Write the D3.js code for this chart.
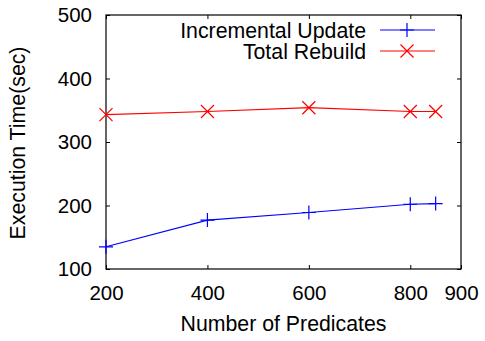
<!DOCTYPE html>
<html>
<head>
<meta charset="utf-8">
<script src="https://cdn.jsdelivr.net/npm/d3@7"></script>
<style>
  body { margin: 0; background: #fff; }
  text { font-family: "Liberation Sans", Arial, sans-serif; fill: #000; }
</style>
</head>
<body>
<div id="chart"></div>
<script>
// data
const predicates = [200, 400, 600, 800, 850];
const incremental = [135, 177, 189, 202, 203];
const rebuild = [343, 348, 354, 348, 348];
const xTicks = [200, 400, 600, 800, 900];
const yTicks = [100, 200, 300, 400, 500];

const width = 485;
const height = 341;
const margin = { top: 15, right: 24, bottom: 72, left: 106 };

const svg = d3.select('#chart')
  .append('svg')
  .attr('width', width)
  .attr('height', height);

const x = d3.scaleLinear().domain([200, 900]).range([margin.left, width - margin.right]);
const y = d3.scaleLinear().domain([100, 500]).range([height - margin.bottom, margin.top]);

// axes, ticks inward on every side
const tick = 4;
svg.append('g')
  .attr('transform', 'translate(0,' + y(100) + ')')
  .call(d3.axisBottom(x).tickValues(xTicks).tickSize(-tick).tickPadding(16).tickFormat(d3.format('d')))
  .call(g => g.select('.domain').remove())
  .call(g => g.selectAll('text').attr('font-size', 20.5));

svg.append('g')
  .attr('transform', 'translate(' + x(200) + ',0)')
  .call(d3.axisLeft(y).tickValues(yTicks).tickSize(-tick).tickPadding(14).tickFormat(d3.format('d')))
  .call(g => g.select('.domain').remove())
  .call(g => g.selectAll('text').attr('font-size', 20.5));

svg.append('g')
  .attr('transform', 'translate(0,' + y(500) + ')')
  .call(d3.axisTop(x).tickValues(xTicks).tickSize(-tick).tickFormat(''))
  .call(g => g.select('.domain').remove());

svg.append('g')
  .attr('transform', 'translate(' + x(900) + ',0)')
  .call(d3.axisRight(y).tickValues(yTicks).tickSize(-tick).tickFormat(''))
  .call(g => g.select('.domain').remove());

// frame
svg.append('rect')
  .attr('x', x(200))
  .attr('y', y(500))
  .attr('width', x(900) - x(200))
  .attr('height', y(100) - y(500))
  .attr('fill', 'none')
  .attr('stroke', '#000')
  .attr('stroke-width', 1.2);

// axis titles
svg.append('text')
  .attr('x', (x(200) + x(900)) / 2)
  .attr('y', 331)
  .attr('text-anchor', 'middle')
  .attr('font-size', 21.3)
  .text('Number of Predicates');

svg.append('text')
  .attr('transform', 'translate(25,' + (y(300) + 1) + ') rotate(-90)')
  .attr('text-anchor', 'middle')
  .attr('font-size', 21.3)
  .text('Execution Time(sec)');

const line = d3.line()
  .x((d, i) => x(predicates[i]))
  .y(d => y(d));

const plus = (g, cx, cy, color) => {
  g.append('path')
    .attr('d', 'M' + (cx - 7) + ',' + cy + 'H' + (cx + 7) + 'M' + cx + ',' + (cy - 7) + 'V' + (cy + 7))
    .attr('stroke', color).attr('stroke-width', 1.2).attr('fill', 'none');
};
const cross = (g, cx, cy, color) => {
  const s = 6.5;
  g.append('path')
    .attr('d', 'M' + (cx - s) + ',' + (cy - s) + 'L' + (cx + s) + ',' + (cy + s)
      + 'M' + (cx - s) + ',' + (cy + s) + 'L' + (cx + s) + ',' + (cy - s))
    .attr('stroke', color).attr('stroke-width', 1.2).attr('fill', 'none');
};

const series = [
  { name: 'Incremental Update', values: incremental, color: '#0000ff', marker: plus },
  { name: 'Total Rebuild', values: rebuild, color: '#ff0000', marker: cross }
];

series.forEach((s, k) => {
  const g = svg.append('g');
  g.append('path')
    .datum(s.values)
    .attr('d', line)
    .attr('fill', 'none')
    .attr('stroke', s.color)
    .attr('stroke-width', 1.2);
  s.values.forEach((v, i) => s.marker(g, x(predicates[i]), y(v), s.color));

  // legend
  const ly = 30 + k * 21;
  svg.append('text')
    .attr('x', 366)
    .attr('y', ly + 8)
    .attr('text-anchor', 'end')
    .attr('font-size', 21.3)
    .text(s.name);
  svg.append('line')
    .attr('x1', 380).attr('x2', 435)
    .attr('y1', ly).attr('y2', ly)
    .attr('stroke', s.color).attr('stroke-width', 1.2);
  s.marker(svg, 407, ly, s.color);
});
</script>
</body>
</html>
